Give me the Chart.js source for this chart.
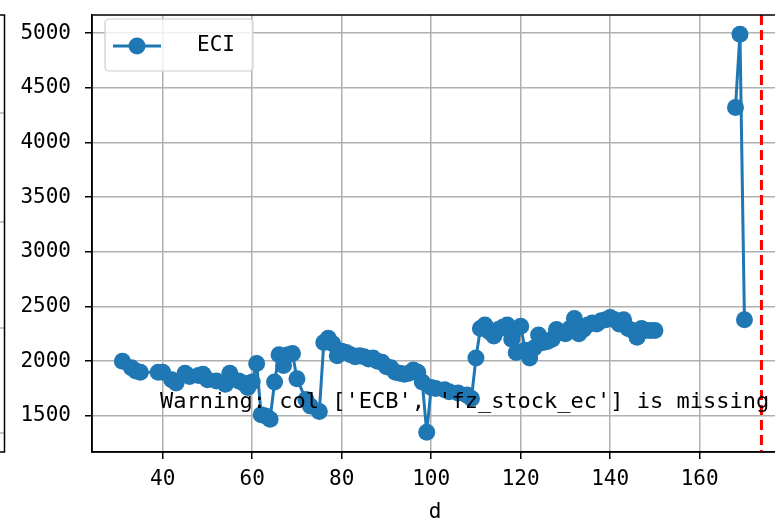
<!DOCTYPE html>
<html>
<head>
<meta charset="utf-8">
<script src="https://cdn.jsdelivr.net/npm/chart.js@4.4.0/dist/chart.umd.min.js"></script>
<style>
html,body{margin:0;padding:0;background:#fff;overflow:hidden;width:775px;height:525px;}
#wrap{position:absolute;left:0;top:0;width:790px;height:525px;}
</style>
</head>
<body>
<div id="wrap"><canvas id="c" width="790" height="525"></canvas></div>
<script>
// ---- data ----
const seriesLabel = "ECI";
const days = [31,33,34,35,39,40,42,43,45,46,48,49,50,52,54,55,57,58,59,60,
  61,62,63,64,65,66,67,68,69,70,72,73,75,76,77,78,79,80,81,82,83,84,85,86,87,88,89,90,
  91,92,93,94,95,96,97,98,99,100,101,103,104,106,108,109,110,111,112,113,114,115,116,117,118,119,120,
  121,122,123,124,125,126,127,128,129,130,131,132,133,134,135,136,137,138,139,140,
  141,142,143,144,145,146,147,148,149,150,151,168,169,170];
const eci = [2000,1940,1910,1900,1900,1900,1830,1800,1890,1860,1870,1880,1830,1820,1790,1890,1820,1800,1760,1810,
  1980,1510,1500,1470,1810,2060,1960,2060,2070,1840,1650,1590,1540,2170,2210,2160,2050,2090,2080,2060,2040,2050,2040,2020,2030,2000,1990,1950,
  1940,1900,1890,1880,1890,1920,1900,1810,1350,1760,1750,1740,1720,1710,1690,1660,2030,2300,2330,2270,2230,2290,2310,2330,2200,2080,2320,
  2100,2030,2120,2240,2170,2180,2200,2290,2260,2250,2300,2390,2250,2290,2330,2350,2340,2370,2380,2400,
  2380,2340,2380,2300,2280,2220,2300,2280,2280,2280,null,4320,4990,2380];
const cutoffDay = 173.8;
const xTickValues = [40,60,80,100,120,140,160];
const yTickValues = [1500,2000,2500,3000,3500,4000,4500,5000];
const xRange = [24.2, 177.5];
const yRange = [1170, 5165];
const xTitle = "d";
const warningText = "Warning: col ['ECB', 'fz_stock_ec'] is missing";

const BLUE = '#1f77b4';
const FONT = '"DejaVu Sans Mono", monospace';

const points = days.map((d,i)=>({x:d, y:eci[i]}));

const framePlugin = {
  id:'frame',
  beforeDraw(chart){
    const ctx = chart.ctx, a = chart.chartArea;
    ctx.save();
    ctx.fillStyle='#fff'; ctx.fillRect(0,0,chart.width,chart.height);
    ctx.strokeStyle='#b0b0b0'; ctx.lineWidth=1.5;
    [113,222,328,433].forEach(y=>{ctx.beginPath();ctx.moveTo(0,y);ctx.lineTo(4,y);ctx.stroke();});
    ctx.strokeStyle='#000'; ctx.lineWidth=1.5;
    ctx.beginPath();
    ctx.moveTo(0,a.top); ctx.lineTo(4.5,a.top); ctx.lineTo(4.5,a.bottom); ctx.lineTo(0,a.bottom);
    ctx.stroke();
    ctx.restore();
  },
  afterDatasetsDraw(chart){
    const ctx = chart.ctx, a = chart.chartArea, xs = chart.scales.x;
    ctx.save();
    const vx = xs.getPixelForValue(cutoffDay);
    ctx.strokeStyle='#ff0000'; ctx.lineWidth=3; ctx.setLineDash([10,5]);
    ctx.beginPath(); ctx.moveTo(vx,a.top); ctx.lineTo(vx,a.bottom); ctx.stroke();
    ctx.setLineDash([]);
    ctx.strokeStyle='#000'; ctx.lineWidth=1.5;
    ctx.strokeRect(a.left,a.top,a.right-a.left,a.bottom-a.top);
    const lx=105, ly=19, lw=148, lh=52, r=4;
    ctx.fillStyle='rgba(255,255,255,0.8)';
    ctx.strokeStyle='#cccccc'; ctx.lineWidth=1.2;
    ctx.beginPath(); ctx.roundRect(lx,ly,lw,lh,r); ctx.fill(); ctx.stroke();
    ctx.strokeStyle=BLUE; ctx.lineWidth=3;
    ctx.beginPath(); ctx.moveTo(113,46); ctx.lineTo(161,46); ctx.stroke();
    ctx.fillStyle=BLUE; ctx.beginPath(); ctx.arc(137,46,8.5,0,Math.PI*2); ctx.fill();
    ctx.fillStyle='#000'; ctx.font='21px '+FONT; ctx.textBaseline='middle'; ctx.textAlign='left';
    ctx.fillText(chart.data.datasets[0].label,197,46);
    ctx.font='22px '+FONT; ctx.textBaseline='alphabetic';
    ctx.fillText(warningText,160,408);
    ctx.restore();
  }
};

new Chart(document.getElementById('c'),{
  type:'line',
  data:{datasets:[{
    label:seriesLabel, data:points, borderColor:BLUE, backgroundColor:BLUE,
    borderWidth:3, pointRadius:8.5, pointBorderWidth:0, pointBackgroundColor:BLUE,
    pointHoverRadius:8.5, spanGaps:false, tension:0
  }]},
  options:{
    responsive:false, animation:false, devicePixelRatio:1,
    layout:{padding:{top:15,right:12,left:0,bottom:0}},
    plugins:{legend:{display:false},tooltip:{enabled:false}},
    events:[],
    scales:{
      x:{type:'linear', min:xRange[0], max:xRange[1],
        afterBuildTicks(ax){ax.ticks = xTickValues.map(v=>({value:v}));},
        afterFit(ax){ax.height=73; ax.paddingLeft=0; ax.paddingRight=0;},
        grid:{color:'#b0b0b0', lineWidth:1.5, drawTicks:true, tickLength:7, tickColor:'#000', tickWidth:1.5},
        border:{display:true,color:'#000',width:1.5},
        ticks:{color:'#000', font:{family:FONT,size:21}, padding:8, maxRotation:0, autoSkip:false, callback:v=>String(v)},
        title:{display:true, text:xTitle, color:'#000', font:{family:FONT,size:21}, padding:{top:0,bottom:0}}
      },
      y:{type:'linear', min:yRange[0], max:yRange[1],
        afterBuildTicks(ax){ax.ticks = yTickValues.map(v=>({value:v}));},
        afterFit(ax){ax.width=92; ax.paddingTop=0; ax.paddingBottom=0;},
        grid:{color:'#b0b0b0', lineWidth:1.5, drawTicks:true, tickLength:7, tickColor:'#000', tickWidth:1.5},
        border:{display:true,color:'#000',width:1.5},
        ticks:{color:'#000', font:{family:FONT,size:21}, padding:14, autoSkip:false, callback:v=>String(v)}
      }
    }
  },
  plugins:[framePlugin]
});
</script>
</body>
</html>
